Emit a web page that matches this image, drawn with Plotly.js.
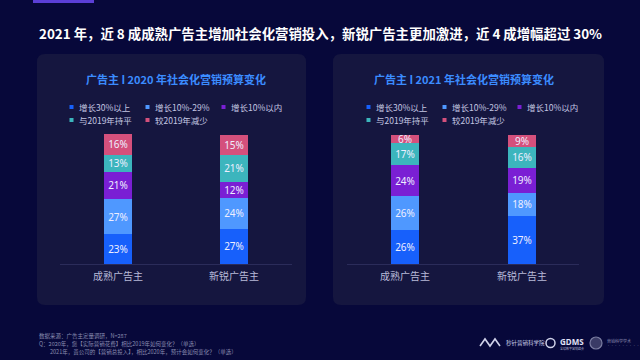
<!DOCTYPE html>
<html>
<head>
<meta charset="utf-8">
<script src="https://cdn.plot.ly/plotly-3.0.1.min.js"></script>
<style>html,body{margin:0;padding:0;background:#07083a;}#chart{width:640px;height:360px;}</style>
</head>
<body>
<div id="chart"></div>
<script>
// ---- data ----
const categories = ['成熟广告主', '新锐广告主'];
const seriesNames = ['增长30%以上', '增长10%-29%', '增长10%以内', '与2019年持平', '较2019年减少'];
const seriesColors = ['#1760fb', '#4f98ff', '#7a1fd4', '#3cb5bd', '#d4507c'];

const y2020_grow30plus = [23, 27];
const y2020_grow10to29 = [27, 24];
const y2020_growUnder10 = [21, 12];
const y2020_flat = [13, 21];
const y2020_decline = [16, 15];

const y2021_grow30plus = [26, 37];
const y2021_grow10to29 = [26, 18];
const y2021_growUnder10 = [24, 19];
const y2021_flat = [17, 16];
const y2021_decline = [6, 9];

const title2020 = '广告主 I 2020 年社会化营销预算变化';
const title2021 = '广告主 I 2021 年社会化营销预算变化';
const mainTitle = '2021 年，近 8 成成熟广告主增加社会化营销投入，新锐广告主更加激进，近 4 成增幅超过 30%';
const footLines = ['数据来源：广告主定量调研，N=287',
  'Q：2020年，您【实际营销花费】相比2019年如何变化？（单选）',
  '　　2021年，贵公司的【营销总投入】，相比2020年，预计会如何变化？（单选）'];

// ---- build ----
const W = 640, H = 360;
const px = x => x / W;
const py = y => (H - y) / H;
const FONT = '"Noto Sans CJK SC", "Noto Sans", sans-serif';

const sets = [
  {vals: [y2020_grow30plus, y2020_grow10to29, y2020_growUnder10, y2020_flat, y2020_decline], xa: 'x', ya: 'y'},
  {vals: [y2021_grow30plus, y2021_grow10to29, y2021_growUnder10, y2021_flat, y2021_decline], xa: 'x2', ya: 'y2'}
];
const BW = 0.24;
const traces = [];
sets.forEach(s => {
  s.vals.forEach((v, i) => {
    traces.push({
      type: 'bar', x: categories, y: v, xaxis: s.xa, yaxis: s.ya,
      name: seriesNames[i], showlegend: false, width: BW,
      marker: {color: seriesColors[i], line: {width: 0}},
      text: v.map(d => d + '%'), textposition: 'inside', insidetextanchor: 'middle',
      constraintext: 'none', textangle: 0,
      textfont: {family: '"Noto Sans", sans-serif', size: 10, color: '#eeeeff'},
      hoverinfo: 'skip'
    });
  });
  // dotted connector between the tops of the first segments
  const first = s.vals[0];
  traces.push({
    type: 'scatter', mode: 'lines+markers', xaxis: s.xa, yaxis: s.ya, showlegend: false,
    x: [BW / 2, 1 - BW / 2], y: [first[0], first[1]],
    line: {color: '#a8acd0', width: 1.2, dash: 'dot'},
    marker: {symbol: 'arrow', angleref: 'previous', size: [0, 6], color: '#a8acd0'},
    hoverinfo: 'skip'
  });
});

const shapes = [];
const annotations = [];
function rrect(x0, y0, x1, y1, r, color) {
  const X0 = px(x0), X1 = px(x1), Y0 = py(y0), Y1 = py(y1), rx = r / W, ry = r / H;
  shapes.push({type: 'path', xref: 'paper', yref: 'paper', layer: 'below', line: {width: 0}, fillcolor: color,
    path: `M ${X0 + rx} ${Y0} L ${X1 - rx} ${Y0} Q ${X1} ${Y0} ${X1} ${Y0 - ry} L ${X1} ${Y1 + ry} Q ${X1} ${Y1} ${X1 - rx} ${Y1} L ${X0 + rx} ${Y1} Q ${X0} ${Y1} ${X0} ${Y1 + ry} L ${X0} ${Y0 - ry} Q ${X0} ${Y0} ${X0 + rx} ${Y0} Z`});
}
rrect(37, 54, 306, 305, 8, '#15163f');
rrect(333, 54, 604, 305, 8, '#15163f');
// top accent bar
shapes.push({type: 'rect', xref: 'paper', yref: 'paper', x0: px(33), x1: px(94), y0: py(3), y1: py(0), line: {width: 0}, fillcolor: '#5b3fd6'});
// baselines
shapes.push({type: 'line', xref: 'paper', yref: 'paper', x0: px(60), x1: px(292), y0: py(264.5), y1: py(264.5), line: {color: '#2b2c5a', width: 1}, layer: 'below'});
shapes.push({type: 'line', xref: 'paper', yref: 'paper', x0: px(347), x1: px(579), y0: py(264.5), y1: py(264.5), line: {color: '#2b2c5a', width: 1}, layer: 'below'});

annotations.push({xref: 'paper', yref: 'paper', x: px(37), y: py(33), xanchor: 'left', yanchor: 'middle', showarrow: false,
  text: '<b>' + mainTitle + '</b>', font: {family: FONT, size: 13.4, color: '#ffffff'}});
annotations.push({xref: 'paper', yref: 'paper', x: px(176), y: py(79), xanchor: 'center', yanchor: 'middle', showarrow: false,
  text: '<b>' + title2020 + '</b>', font: {family: FONT, size: 11, color: '#3b8cff'}});
annotations.push({xref: 'paper', yref: 'paper', x: px(463.5), y: py(79), xanchor: 'center', yanchor: 'middle', showarrow: false,
  text: '<b>' + title2021 + '</b>', font: {family: FONT, size: 11, color: '#3b8cff'}});

// legends
function legend(cols, rows) {
  seriesNames.forEach((n, i) => {
    const cx = cols[i % 3], cy = rows[Math.floor(i / 3)];
    shapes.push({type: 'rect', xref: 'paper', yref: 'paper', x0: px(cx - 2), x1: px(cx + 2), y0: py(cy + 2), y1: py(cy - 2), line: {width: 0}, fillcolor: seriesColors[i]});
    annotations.push({xref: 'paper', yref: 'paper', x: px(cx + 5), y: py(cy), xanchor: 'left', yanchor: 'middle', showarrow: false,
      text: n, font: {family: FONT, size: 8.5, color: '#c4c6e2'}});
  });
}
legend([71.5, 147.5, 223.5], [107, 120]);
legend([368.5, 444.5, 519.5], [107, 120]);

// footer
footLines.forEach((t, i) => {
  annotations.push({xref: 'paper', yref: 'paper', x: px(37), y: py(336 + i * 8), xanchor: 'left', yanchor: 'middle', showarrow: false,
    text: t, font: {family: FONT, size: 5.5, color: '#8a8cb0'}});
});
// logos (approximated)
shapes.push({type: 'path', xref: 'paper', yref: 'paper', line: {color: '#d0d2ea', width: 1.6},
  path: `M ${px(480)} ${py(346)} L ${px(485)} ${py(339)} L ${px(490)} ${py(346)} L ${px(495)} ${py(339)} L ${px(500)} ${py(346)}`});
annotations.push({xref: 'paper', yref: 'paper', x: px(504), y: py(343), xanchor: 'left', yanchor: 'middle', showarrow: false,
  text: '秒针营销科学院', font: {family: FONT, size: 5.5, color: '#c8cae6'}});
shapes.push({type: 'circle', xref: 'paper', yref: 'paper', x0: px(546), x1: px(555), y0: py(347.5), y1: py(338.5), line: {color: '#d0d2ea', width: 1.5}});
annotations.push({xref: 'paper', yref: 'paper', x: px(558), y: py(341), xanchor: 'left', yanchor: 'middle', showarrow: false,
  text: '<b>GDMS</b>', font: {family: '"Noto Sans", sans-serif', size: 8, color: '#e0e2f6'}});
annotations.push({xref: 'paper', yref: 'paper', x: px(558), y: py(348), xanchor: 'left', yanchor: 'middle', showarrow: false,
  text: '全球数字营销峰会', font: {family: FONT, size: 3, color: '#a0a2c0'}});
shapes.push({type: 'circle', xref: 'paper', yref: 'paper', x0: px(590), x1: px(602), y0: py(349), y1: py(337), line: {color: '#7a7ca0', width: 1.2}, fillcolor: '#3a3b66'});
annotations.push({xref: 'paper', yref: 'paper', x: px(605), y: py(341), xanchor: 'left', yanchor: 'middle', showarrow: false,
  text: '营销科学学术', font: {family: FONT, size: 4, color: '#8a8cb0'}});
annotations.push({xref: 'paper', yref: 'paper', x: px(605), y: py(346), xanchor: 'left', yanchor: 'middle', showarrow: false,
  text: '· · · · · · · · ·', font: {family: FONT, size: 3, color: '#8a8cb0'}});

const xaxisBase = {type: 'category', range: [-0.5, 1.5], showgrid: false, zeroline: false, showline: false, ticks: '',
  ticklabelstandoff: 5,
  tickfont: {family: FONT, size: 10, color: '#b8bad8'}, fixedrange: true};
const yaxisBase = {range: [0, 100], showgrid: false, zeroline: false, showline: false, showticklabels: false, fixedrange: true};

const layout = {
  width: W, height: H, margin: {l: 0, r: 0, t: 0, b: 0},
  paper_bgcolor: '#07083a', plot_bgcolor: 'rgba(0,0,0,0)',
  barmode: 'stack', bargap: 0,
  showlegend: false,
  xaxis: Object.assign({}, xaxisBase, {domain: [px(60), px(292)], anchor: 'y'}),
  yaxis: Object.assign({}, yaxisBase, {domain: [py(264), py(134)], anchor: 'x'}),
  xaxis2: Object.assign({}, xaxisBase, {domain: [px(346.5), px(580.5)], anchor: 'y2'}),
  yaxis2: Object.assign({}, yaxisBase, {domain: [py(264), py(134)], anchor: 'x2'}),
  shapes: shapes, annotations: annotations,
  font: {family: FONT}
};
Plotly.newPlot('chart', traces, layout, {displayModeBar: false, staticPlot: true});
</script>
</body>
</html>
